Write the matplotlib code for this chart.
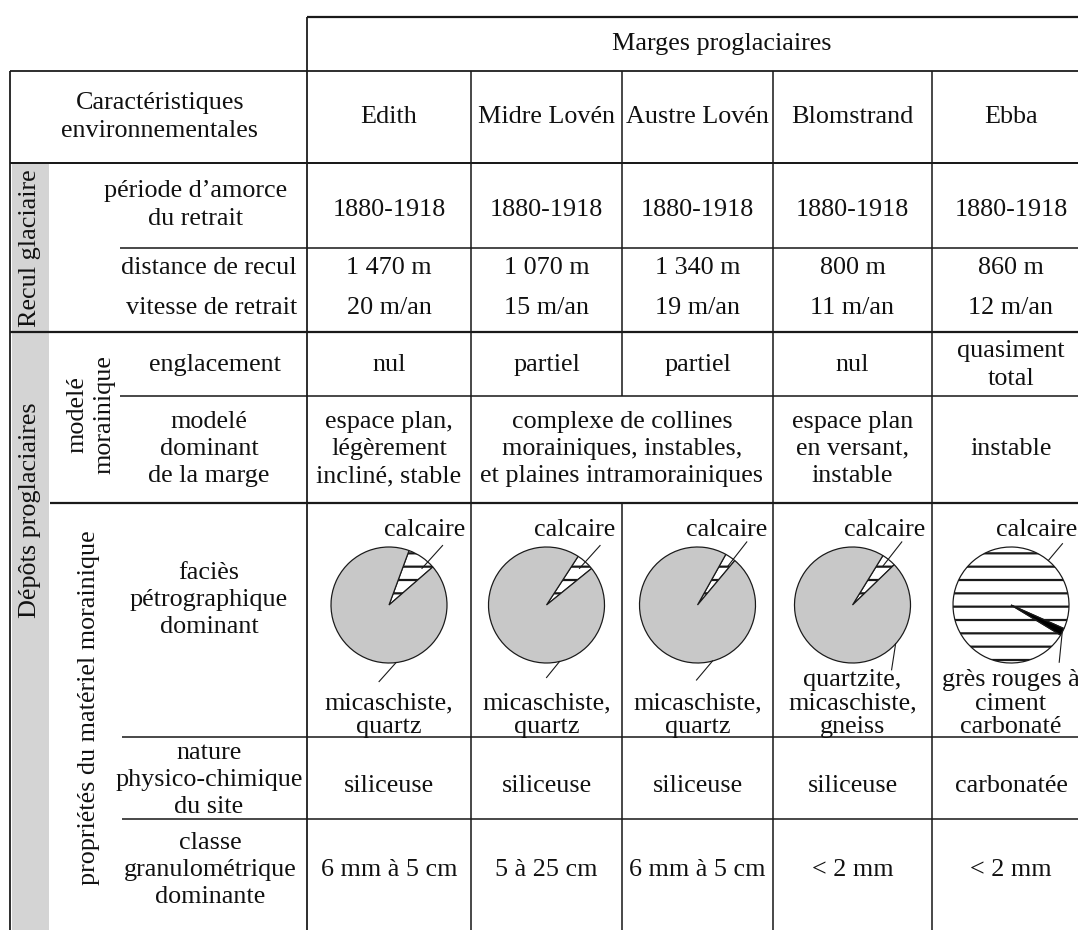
"""
Tableau des marges proglaciaires : caractéristiques environnementales
et camemberts du faciès pétrographique dominant.
"""

import matplotlib.pyplot as plt
from matplotlib.patches import Rectangle
import numpy as np

# ─────────────────────────────────────────────
# DONNÉES
# ─────────────────────────────────────────────

glaciers = ["Edith", "Midre Lovén", "Austre Lovén", "Blomstrand", "Ebba"]
periode = ["1880-1918", "1880-1918", "1880-1918", "1880-1918", "1880-1918"]
distance = ["1 470 m", "1 070 m", "1 340 m", "800 m", "860 m"]
vitesse = ["20 m/an", "15 m/an", "19 m/an", "11 m/an", "12 m/an"]
englacement = ["nul", "partiel", "partiel", "nul", "quasiment\ntotal"]
modele = ["espace plan,\nlégèrement\nincliné, stable",
          "complexe de collines\nmorainiques, instables,\net plaines intramorainiques",
          "espace plan\nen versant,\ninstable",
          "instable"]
modele_span = [1, 2, 1, 1]
calcaire_pct = [8, 5, 3, 4, 98]
autre_pct = [92, 95, 97, 96, 2]
roche = ["micaschiste,\nquartz", "micaschiste,\nquartz", "micaschiste,\nquartz",
         "quartzite,\nmicaschiste,\ngneiss", "grès rouges à\nciment\ncarbonaté"]
nature = ["siliceuse", "siliceuse", "siliceuse", "siliceuse", "carbonatée"]
classe = ["6 mm à 5 cm", "5 à 25 cm", "6 mm à 5 cm", "< 2 mm", "< 2 mm"]

# ─────────────────────────────────────────────
# MISE EN PAGE (pixels, origine en haut à gauche)
# ─────────────────────────────────────────────

W, H, DPI = 1078, 930, 80
FS = 23.5
FONT = "Liberation Serif"
LC = "#1a1a1a"

cols = [307, 471, 622, 773, 932, 1090]
centres = [(a + b) / 2 for a, b in zip(cols[:-1], cols[1:])]
RAYON = 58
Y_PIE = 605

start_angle = [41, 39, 50, 44, -24]       # angle visuel de départ du calcaire
angle_calc = [48, 48, 52, 52, 50]         # trait de rappel "calcaire"
rappel_bas = [(-83, -17, 19), (-77, -13, 16), (-75, -16, 19),
              (-42, -4, 26), (-28, -3, 30)]
droite_calc = [465, 615, 767, 925, 1077]  # bord droit des étiquettes "calcaire"

plt.rcParams["hatch.linewidth"] = 2.0
plt.rcParams["font.family"] = [FONT, "DejaVu Serif"]

fig = plt.figure(figsize=(W / DPI, H / DPI), dpi=DPI)
ax = fig.add_axes([0, 0, 1, 1])


def txt(x, y, s, ha="center", va="center", ls=1.3, **kw):
    ax.text(x, y, s, ha=ha, va=va, fontsize=FS, color="#111",
            linespacing=ls, **kw)


def hline(y, x0, x1=W, lw=1.4):
    ax.plot([x0, x1], [y, y], color=LC, lw=lw, solid_capstyle="butt")


def vline(x, y0, y1, lw=1.4):
    ax.plot([x, x], [y0, y1], color=LC, lw=lw, solid_capstyle="butt")


# ── Bande grise à gauche ──
ax.add_patch(Rectangle((12, 163), 37, H - 163, facecolor="#d4d4d4",
                       edgecolor="none", zorder=0))

# ── Lignes horizontales ──
hline(17, cols[0], lw=2.0)
hline(71, 10, lw=1.6)
hline(163, 10, lw=1.8)
hline(248, 120)
hline(332, 10, lw=2.0)
hline(396, 120)
hline(503, 50, lw=2.0)
hline(737, 122)
hline(819, 122)

# ── Lignes verticales ──
vline(10, 71, H, lw=1.6)
vline(cols[0], 17, H, lw=1.6)
for i, x in enumerate(cols[1:5], start=1):
    if i == 2:
        vline(x, 71, 396)
        vline(x, 503, H)
    else:
        vline(x, 71, H)

# ── En-têtes ──
txt(722, 44, "Marges proglaciaires")
txt(160, 117, "Caractéristiques\nenvironnementales")
for cx, g in zip(centres, glaciers):
    txt(cx, 117, g)

# ── Libellés de gauche ──
txt(30, 248, "Recul glaciaire", rotation=90)
txt(30, 510, "Dépôts proglaciaires", rotation=90)
txt(91, 415, "modelé\nmorainique", rotation=90)
txt(89, 708, "propriétés du matériel morainique", rotation=90)

txt(196, 205, "période d’amorce\ndu retrait")
txt(297, 268, "distance de recul", ha="right")
txt(297, 308, "vitesse de retrait", ha="right")
txt(215, 365, "englacement")
txt(209, 449, "modelé\ndominant\nde la marge")
txt(209, 600, "faciès\npétrographique\ndominant")
txt(209, 780, "nature\nphysico-chimique\ndu site")
txt(210, 870, "classe\ngranulométrique\ndominante")

# ── Valeurs ──
for i, cx in enumerate(centres):
    txt(cx, 210, periode[i])
    txt(cx, 268, distance[i])
    txt(cx, 308, vitesse[i])
    txt(cx, 365, englacement[i])
    txt(cx, 786, nature[i])
    txt(cx, 870, classe[i])

col = 0
for s, span in zip(modele, modele_span):
    cx = (cols[col] + cols[col + span]) / 2
    txt(cx, 449, s)
    col += span

# ── Camemberts du faciès pétrographique ──
for i, cx in enumerate(centres):
    ebba = i == 4
    couleurs = ["white", "black" if ebba else "#c8c8c8"]
    # axe y inversé : angle visuel a -> angle données -a
    wedges, _ = ax.pie([calcaire_pct[i], autre_pct[i]], colors=couleurs,
                       startangle=-start_angle[i], counterclock=False,
                       center=(cx, Y_PIE), radius=RAYON, frame=True,
                       wedgeprops=dict(edgecolor=LC, linewidth=1.1))
    wedges[0].set_hatch("-")

    # trait de rappel vers "calcaire"
    a = np.radians(angle_calc[i])
    r0 = RAYON if ebba else 0.85 * RAYON
    ax.plot([cx + r0 * np.cos(a), cx + 1.38 * RAYON * np.cos(a)],
            [Y_PIE - r0 * np.sin(a), Y_PIE - 1.38 * RAYON * np.sin(a)],
            color=LC, lw=1.0)
    txt(droite_calc[i], 536, "calcaire", ha="right", va="baseline")

    # trait de rappel vers la roche dominante
    ang, dx, dy = rappel_bas[i]
    b = np.radians(ang)
    x0, y0 = cx + RAYON * np.cos(b), Y_PIE - RAYON * np.sin(b)
    ax.plot([x0, x0 + dx], [y0, y0 + dy], color=LC, lw=1.0)
    txt(cx, 733, roche[i], va="baseline", ls=1.08)

ax.set_xlim(0, W)
ax.set_ylim(H, 0)
ax.set_aspect("auto")
ax.axis("off")

fig.savefig("out.png", dpi=DPI, facecolor="white")
